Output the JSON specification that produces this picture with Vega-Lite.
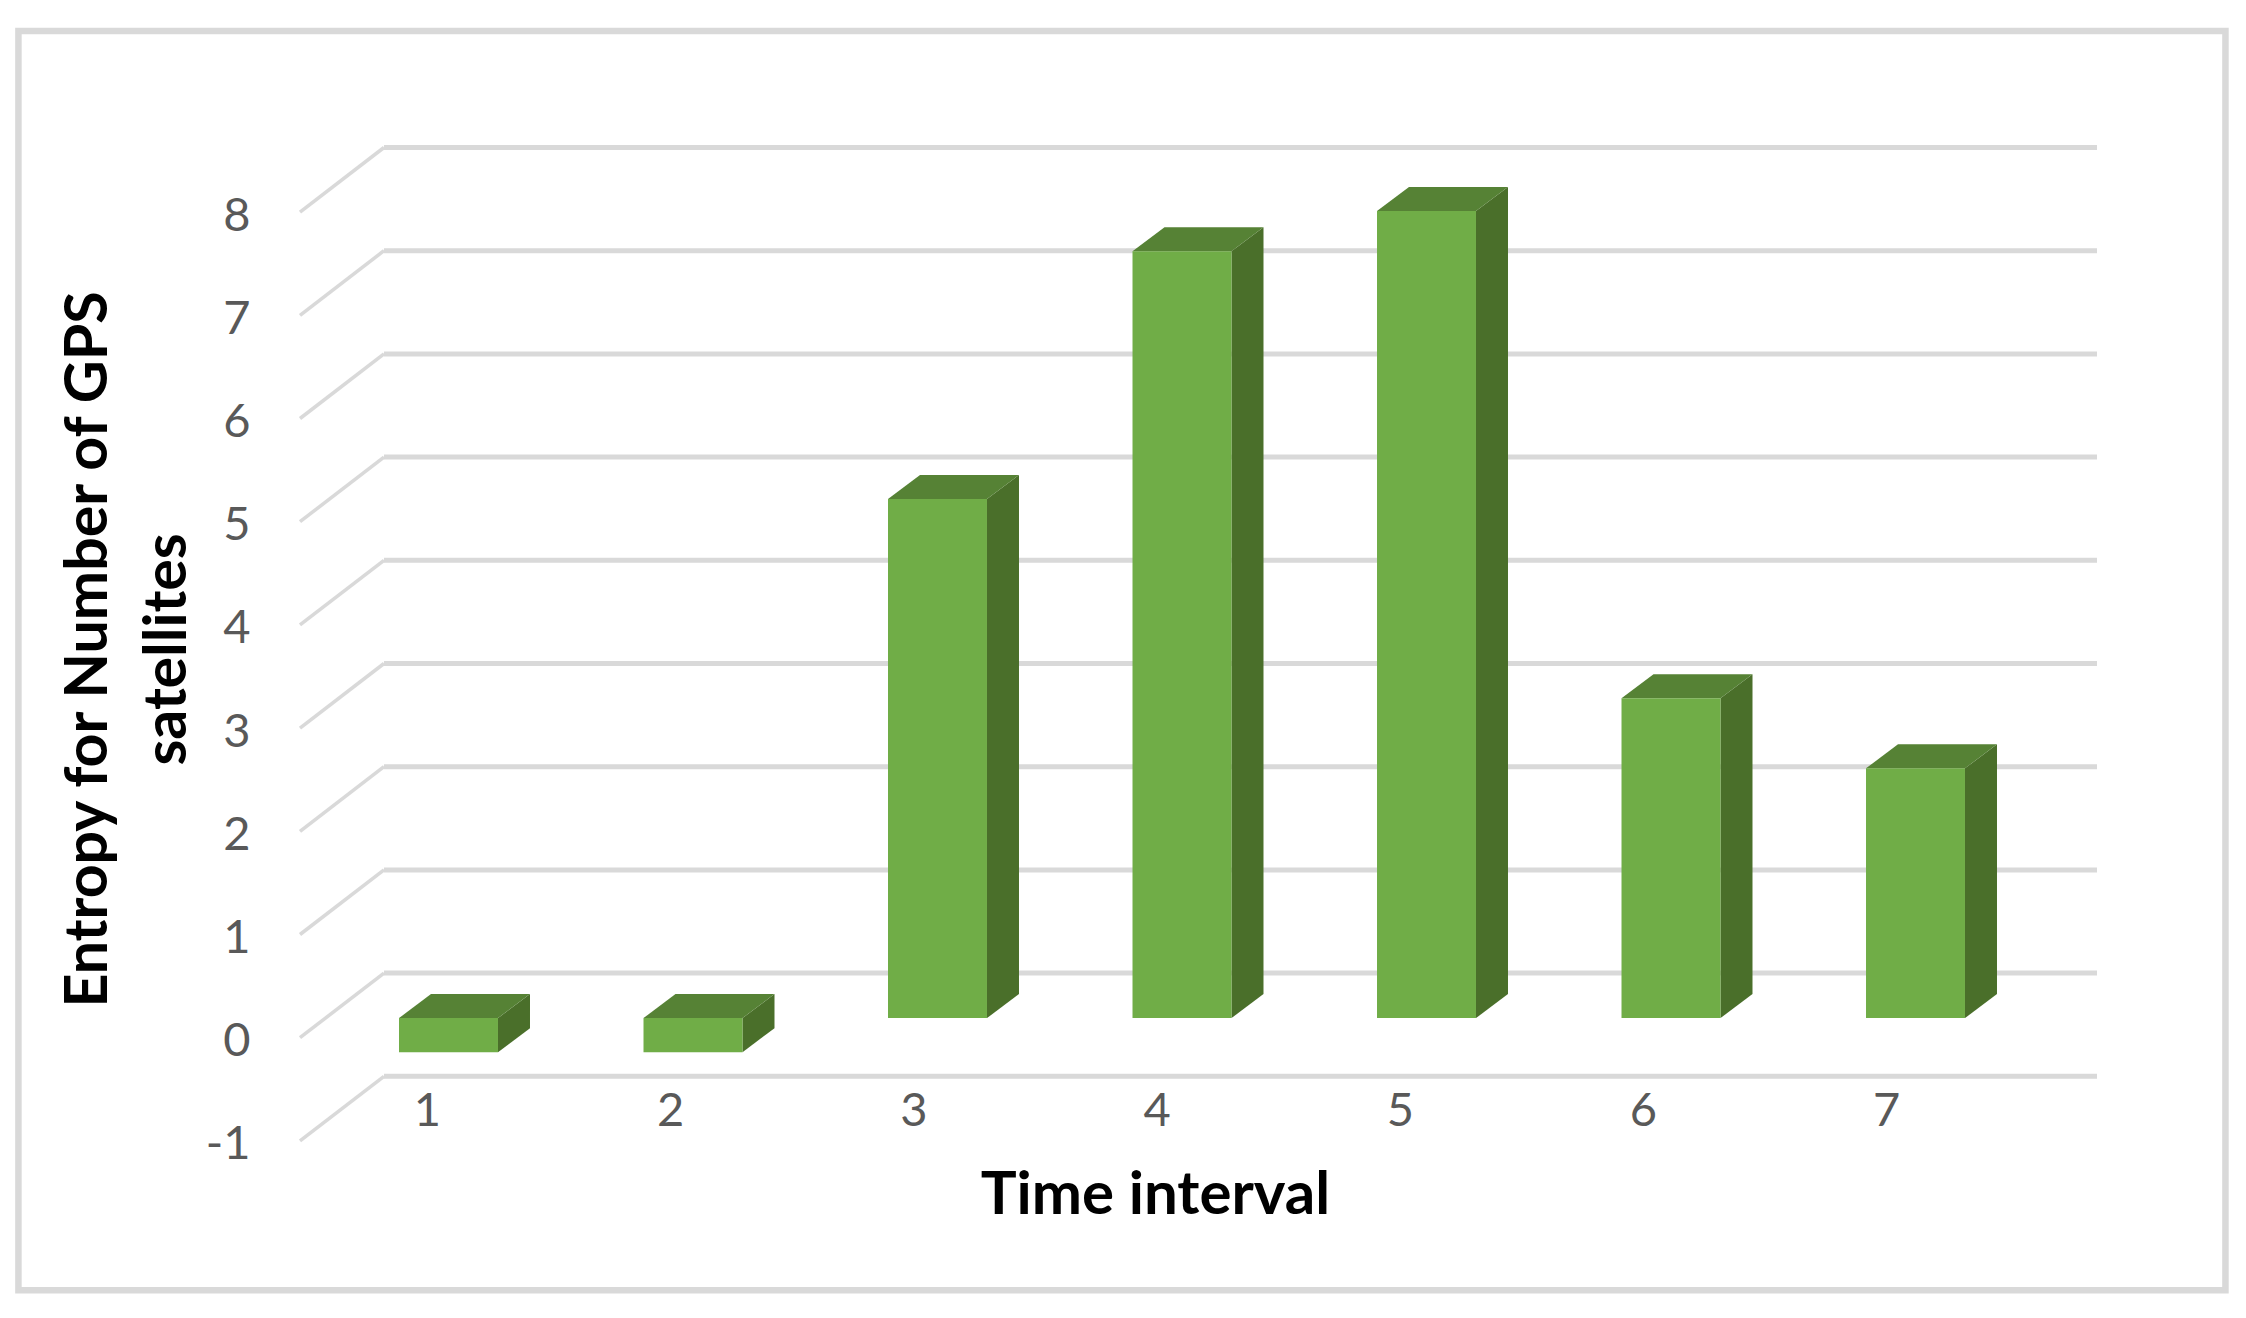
{
  "$schema": "https://vega.github.io/schema/vega-lite/v6.json",
  "width": 1797,
  "height": 993.4,
  "autosize": "none",
  "padding": {"left": 300, "top": 147.5, "right": 149, "bottom": 177.1},
  "background": "white",
  "config": {"view": {"stroke": null}, "font": "Lato"},
  "resolve": {"axis": {"x": "independent", "y": "independent"}},
  "datasets": {
    "bars": [
      {"interval": 1, "value": -0.33},
      {"interval": 2, "value": -0.33},
      {"interval": 3, "value": 5.03},
      {"interval": 4, "value": 7.43},
      {"interval": 5, "value": 7.82},
      {"interval": 6, "value": 3.1},
      {"interval": 7, "value": 2.42}
    ],
    "grid": [
      {"level": -1}, {"level": 0}, {"level": 1}, {"level": 2}, {"level": 3},
      {"level": 4}, {"level": 5}, {"level": 6}, {"level": 7}, {"level": 8}
    ]
  },
  "layer": [
    {
      "data": {"name": "grid"},
      "transform": [
        {"calculate": "datum.level + 0.626", "as": "wallY"}
      ],
      "mark": {"type": "rule", "color": "#D9D9D9", "strokeWidth": 5},
      "encoding": {
        "x": {
          "datum": 0.8232,
          "type": "quantitative",
          "scale": {"domain": [0.4778, 7.8668], "nice": false, "zero": false},
          "axis": {
            "values": [1, 2, 3, 4, 5, 6, 7],
            "format": "d",
            "domain": false,
            "ticks": false,
            "grid": false,
            "labelFontSize": 47,
            "labelColor": "#595959",
            "labelFont": "Lato",
            "labelBaseline": "middle",
            "labelPadding": -29,
            "labelFlush": false,
            "labelOverlap": false,
            "labelBound": false,
            "title": "Time interval",
            "titleFont": "Lato",
            "titleFontSize": 60,
            "titleFontWeight": "bold",
            "titleColor": "#000000",
            "titleX": 855,
            "titleY": 55,
            "titleBaseline": "middle",
            "titleAlign": "center"
          }
        },
        "x2": {"datum": 7.8668},
        "y": {
          "field": "wallY",
          "type": "quantitative",
          "scale": {"domain": [-1, 8.626], "nice": false, "zero": false},
          "axis": {
            "values": [-1, 0, 1, 2, 3, 4, 5, 6, 7, 8],
            "labelExpr": "'' + datum.value",
            "domain": false,
            "ticks": false,
            "grid": false,
            "labelFontSize": 47,
            "labelColor": "#595959",
            "labelFont": "Lato",
            "labelBaseline": "middle",
            "labelPadding": 50,
            "labelOffset": 4,
            "labelFlush": false,
            "labelOverlap": false,
            "labelBound": false,
            "title": ["Entropy for Number of GPS", "satellites"],
            "titleFont": "Lato",
            "titleFontSize": 59,
            "titleFontWeight": "bold",
            "titleColor": "#000000",
            "titleX": -182,
            "titleY": 501.5,
            "titleLineHeight": 79,
            "titleAlign": "center",
            "titleAngle": -90
          }
        }
      }
    },
    {
      "data": {"name": "grid"},
      "transform": [
        {"calculate": "datum.level + 0.626", "as": "wallY"}
      ],
      "mark": {"type": "rule", "color": "#D9D9D9", "strokeWidth": 3.5},
      "encoding": {
        "x": {"datum": 0.4778, "type": "quantitative", "axis": null},
        "x2": {"datum": 0.8232},
        "y": {"field": "level", "type": "quantitative", "axis": null},
        "y2": {"field": "wallY"}
      }
    },
    {
      "data": {"name": "bars"},
      "transform": [
        {"calculate": "1.0884 + 1.00535 * (datum.interval - 1)", "as": "c"},
        {"calculate": "max(datum.value, 0) + 0.19", "as": "hi"},
        {"calculate": "min(datum.value, 0) + 0.19", "as": "lo"},
        {"calculate": "[0, 1]", "as": "t"},
        {"flatten": ["t"]},
        {"calculate": "datum.c + 0.2035 + datum.t * 0.1316", "as": "sx"},
        {"calculate": "datum.hi + datum.t * 0.2326", "as": "sy"},
        {"calculate": "datum.lo + datum.t * 0.2326", "as": "sy2"}
      ],
      "mark": {"type": "area", "color": "#4A6F2A", "orient": "vertical"},
      "encoding": {
        "x": {"field": "sx", "type": "quantitative", "axis": null},
        "y": {"field": "sy", "type": "quantitative", "axis": null, "stack": null},
        "y2": {"field": "sy2"},
        "detail": {"field": "interval"}
      }
    },
    {
      "data": {"name": "bars"},
      "transform": [
        {"calculate": "1.0884 + 1.00535 * (datum.interval - 1)", "as": "c"},
        {"calculate": "max(datum.value, 0) + 0.19", "as": "hi"},
        {"calculate": "[0, 1]", "as": "t"},
        {"flatten": ["t"]},
        {"calculate": "datum.c - 0.2035 + datum.t * 0.1316", "as": "tx"},
        {"calculate": "datum.c + 0.2035 + datum.t * 0.1316", "as": "tx2"},
        {"calculate": "datum.hi + datum.t * 0.2326", "as": "ty"}
      ],
      "mark": {"type": "area", "color": "#568235", "orient": "horizontal"},
      "encoding": {
        "y": {"field": "ty", "type": "quantitative", "axis": null},
        "x": {"field": "tx", "type": "quantitative", "axis": null, "stack": null},
        "x2": {"field": "tx2"},
        "detail": {"field": "interval"}
      }
    },
    {
      "data": {"name": "bars"},
      "transform": [
        {"calculate": "1.0884 + 1.00535 * (datum.interval - 1)", "as": "c"},
        {"calculate": "datum.c - 0.2035", "as": "fx"},
        {"calculate": "datum.c + 0.2035", "as": "fx2"},
        {"calculate": "max(datum.value, 0) + 0.19", "as": "hi"},
        {"calculate": "min(datum.value, 0) + 0.19", "as": "lo"}
      ],
      "mark": {"type": "rect", "color": "#70AD47"},
      "encoding": {
        "x": {"field": "fx", "type": "quantitative", "axis": null},
        "x2": {"field": "fx2"},
        "y": {"field": "hi", "type": "quantitative", "axis": null},
        "y2": {"field": "lo"}
      }
    },
    {
      "data": {"values": [{"part": "chart frame"}]},
      "mark": {"type": "rect", "filled": false, "stroke": "#D9D9D9", "strokeWidth": 6.5},
      "encoding": {
        "x": {"datum": -0.68, "type": "quantitative", "axis": null},
        "x2": {"datum": 8.395},
        "y": {"datum": 9.754, "type": "quantitative", "axis": null},
        "y2": {"datum": -2.446}
      }
    }
  ]
}
